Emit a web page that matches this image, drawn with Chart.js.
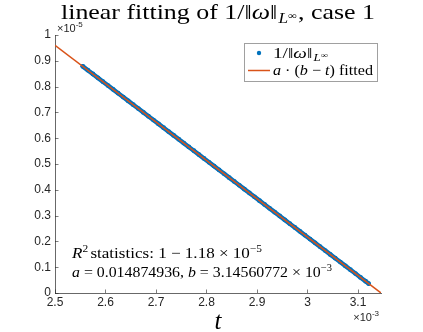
<!DOCTYPE html>
<html><head><meta charset="utf-8">
<script src="https://cdn.jsdelivr.net/npm/chart.js@4/dist/chart.umd.min.js"></script>
<style>html,body{margin:0;padding:0;background:#fff}#wrap{width:423px;height:332px;position:relative}</style>
</head><body><div id="wrap"><canvas id="c" width="423" height="332"></canvas></div>
<script>
// t in units of 1e-3, values in units of 1e-5
const tData = [2.555,2.565,2.575,2.585,2.595,2.605,2.615,2.625,2.635,2.645,2.655,2.665,2.675,2.685,2.695,2.705,2.715,2.725,2.735,2.745,2.755,2.765,2.775,2.785,2.795,2.805,2.815,2.825,2.835,2.845,2.855,2.865,2.875,2.885,2.895,2.905,2.915,2.925,2.935,2.945,2.955,2.965,2.975,2.985,2.995,3.005,3.015,3.025,3.035,3.045,3.055,3.065,3.075,3.085,3.095,3.105,3.115,3.121];
const invOmega = [0.8785,0.8636,0.8488,0.8339,0.8190,0.8041,0.7893,0.7744,0.7595,0.7446,0.7298,0.7149,0.7000,0.6851,0.6703,0.6554,0.6405,0.6256,0.6108,0.5959,0.5810,0.5661,0.5513,0.5364,0.5215,0.5066,0.4918,0.4769,0.4620,0.4471,0.4323,0.4174,0.4025,0.3876,0.3728,0.3579,0.3430,0.3281,0.3133,0.2984,0.2835,0.2686,0.2538,0.2389,0.2240,0.2091,0.1943,0.1794,0.1645,0.1496,0.1348,0.1199,0.1050,0.0901,0.0753,0.0604,0.0455,0.0366];
const fitT = [2.5, 3.1456];
const fitY = [0.9603, 0];
const xTicks = [2.5,2.6,2.7,2.8,2.9,3.0,3.1];
const yTicks = [0,0.1,0.2,0.3,0.4,0.5,0.6,0.7,0.8,0.9,1];
const xRange = [2.5, 3.1456];
const yRange = [0, 1];

const BLUE = '#0072BD', RED = '#D95319', AX = '#262626';
const SERIF = '"Liberation Serif", "DejaVu Serif", serif';
const SANS = '"Liberation Sans", Arial, sans-serif';

function richWidth(ctx, segs){
  let w=0; for(const s of segs){ctx.font=s.f; w+=ctx.measureText(s.t).width + (s.sp||0);} return w;
}
function drawRich(ctx, segs, x, y, align, target){
  const w = richWidth(ctx, segs);
  const sx = target ? target / w : 1;
  const W = w*sx;
  let x0 = align==='center' ? x - W/2 : (align==='right' ? x - W : x);
  ctx.save();
  ctx.translate(x0, y); ctx.scale(sx, 1);
  ctx.textBaseline='alphabetic'; ctx.textAlign='left';
  let cx=0;
  for(const s of segs){ctx.font=s.f; ctx.fillStyle=s.c||'#000'; ctx.fillText(s.t, cx, (s.dy||0)); cx += ctx.measureText(s.t).width + (s.sp||0);}
  ctx.restore();
}
const R = (px)=>px+'px '+SERIF, I=(px)=>'italic '+px+'px '+SERIF;

const deco = {
  id:'deco',
  beforeDatasetsDraw(chart){
    const ctx=chart.ctx, xs=chart.scales.x, ys=chart.scales.y, a=chart.chartArea;
    ctx.save(); ctx.strokeStyle=AX; ctx.lineWidth=0.6;
    ctx.beginPath();
    for(const v of xTicks){const p=Math.round(xs.getPixelForValue(v))+0.5; ctx.moveTo(p,a.bottom); ctx.lineTo(p,a.bottom-3.5);}
    for(const v of yTicks){const p=Math.round(ys.getPixelForValue(v))+0.5; ctx.moveTo(a.left,p); ctx.lineTo(a.left+3.5,p);}
    ctx.stroke(); ctx.restore();
  },
  afterDraw(chart){
    const ctx=chart.ctx, a=chart.chartArea;
    ctx.save();
    const cx=(a.left+a.right)/2;
    // title
    drawRich(ctx,[{t:'linear fitting of 1/‖',f:R(21)},{t:'ω',f:I(21)},{t:'‖',f:R(21),sp:1},{t:'L',f:I(14),dy:4},{t:'∞',f:R(10),dy:0,sp:1},{t:', case 1',f:R(21)}], cx, 19,'center', 314);
    // x label
    drawRich(ctx,[{t:'t',f:I(25)}], cx, 329,'center');
    // exponents
    drawRich(ctx,[{t:'×10',f:'11px '+SANS,c:AX},{t:'-5',f:'8px '+SANS,dy:-5,c:AX}], a.left+2, 32,'left');
    drawRich(ctx,[{t:'×10',f:'11px '+SANS,c:AX},{t:'-3',f:'8px '+SANS,dy:-5,c:AX}], a.right-2, 321,'right');
    // annotations
    drawRich(ctx,[{t:'R',f:I(15)},{t:'2',f:R(10),dy:-6,sp:2},{t:'statistics: 1 − 1.18 × 10',f:R(15)},{t:'−5',f:R(10),dy:-6}], 72, 258,'left', 190);
    drawRich(ctx,[{t:'a',f:I(15)},{t:' = 0.014874936, ',f:R(15)},{t:'b',f:I(15)},{t:' = 3.14560772 × 10',f:R(15)},{t:'−3',f:R(10),dy:-6}], 72, 277,'left', 260);
    // legend
    const lx=244, ly=43, lw=133, lh=38;
    ctx.fillStyle='#fff'; ctx.fillRect(lx,ly,lw,lh);
    ctx.strokeStyle='#A0A0A0'; ctx.lineWidth=1; ctx.strokeRect(lx+0.5,ly+0.5,lw,lh);
    ctx.fillStyle=BLUE; ctx.beginPath(); ctx.arc(259,53,2.2,0,Math.PI*2); ctx.fill();
    ctx.strokeStyle=RED; ctx.lineWidth=1.5; ctx.beginPath(); ctx.moveTo(248,70.5); ctx.lineTo(270,70.5); ctx.stroke();
    drawRich(ctx,[{t:'1/‖',f:R(15)},{t:'ω',f:I(15)},{t:'‖',f:R(15),sp:1},{t:'L',f:I(10),dy:3},{t:'∞',f:R(8)}], 273, 58,'left', 55);
    drawRich(ctx,[{t:'a',f:I(15)},{t:' · (',f:R(15)},{t:'b',f:I(15)},{t:' − ',f:R(15)},{t:'t',f:I(15)},{t:') fitted',f:R(15)}], 273, 75,'left', 100);
    ctx.restore();
  }
};

new Chart(document.getElementById('c'),{
  type:'scatter',
  data:{datasets:[
    {label:'1/‖ω‖_L∞', data:tData.map((t,i)=>({x:t,y:invOmega[i]})), showLine:true, borderColor:BLUE, backgroundColor:BLUE, borderWidth:4.5, borderCapStyle:'round', pointRadius:2.4, pointBorderWidth:0, order:2},
    {label:'a·(b−t) fitted', data:fitT.map((t,i)=>({x:t,y:fitY[i]})), showLine:true, borderColor:RED, backgroundColor:RED, borderWidth:1.5, pointRadius:0, order:1}
  ]},
  options:{
    responsive:false, animation:false,
    layout:{padding:{left:0,top:35,right:42,bottom:0}},
    plugins:{legend:{display:false},tooltip:{enabled:false},title:{display:false}},
    scales:{
      x:{type:'linear',min:xRange[0],max:xRange[1],
        afterBuildTicks:(s)=>{s.ticks=xTicks.map(v=>({value:v}));},
        afterFit:(s)=>{s.height=39;},
        grid:{display:false,drawTicks:false},
        border:{display:true,color:AX,width:0.7},
        ticks:{padding:2,color:AX,font:{family:SANS,size:12},callback:(v)=>String(Number(v.toFixed(1))),maxRotation:0,autoSkip:false}},
      y:{type:'linear',min:yRange[0],max:yRange[1],
        afterBuildTicks:(s)=>{s.ticks=yTicks.map(v=>({value:v}));},
        afterFit:(s)=>{s.width=55;},
        grid:{display:false,drawTicks:false},
        border:{display:true,color:AX,width:0.7},
        ticks:{padding:4,color:AX,font:{family:SANS,size:12},callback:(v)=>String(Number(v.toFixed(1))),autoSkip:false}}
    }
  },
  plugins:[deco]
});
</script></body></html>
